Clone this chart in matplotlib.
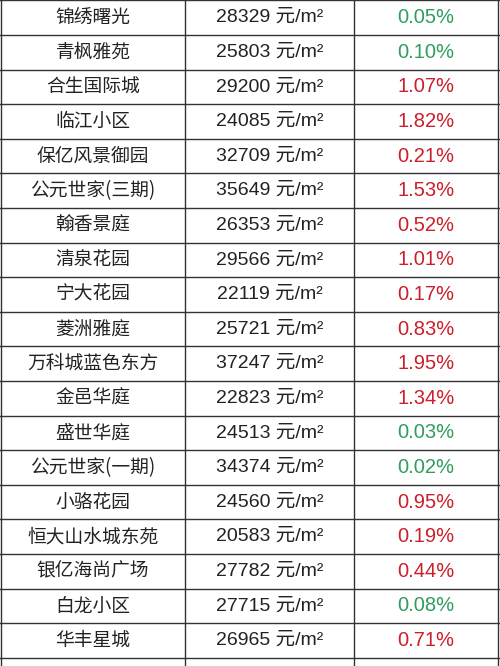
import matplotlib
matplotlib.use('Agg')
import matplotlib.pyplot as plt

plt.rcParams['font.family'] = ['Noto Sans CJK SC', 'DejaVu Sans']

names = ["锦绣曙光", "青枫雅苑", "合生国际城", "临江小区", "保亿风景御园", "公元世家(三期)",
         "翰香景庭", "清泉花园", "宁大花园", "菱洲雅庭", "万科城蓝色东方", "金邑华庭",
         "盛世华庭", "公元世家(一期)", "小骆花园", "恒大山水城东苑", "银亿海尚广场", "白龙小区", "华丰星城"]
prices = [28329, 25803, 29200, 24085, 32709, 35649, 26353, 29566, 22119, 25721,
          37247, 22823, 24513, 34374, 24560, 20583, 27782, 27715, 26965]
changes = ["0.05%", "0.10%", "1.07%", "1.82%", "0.21%", "1.53%", "0.52%", "1.01%", "0.17%", "0.83%",
           "1.95%", "1.34%", "0.03%", "0.02%", "0.95%", "0.19%", "0.44%", "0.08%", "0.71%"]
trend = ["g", "g", "r", "r", "r", "r", "r", "r", "r", "r",
         "r", "r", "g", "g", "r", "r", "r", "g", "r"]

colors = {"g": "#2f9e5e", "r": "#cc1f2b"}
latin = ['Liberation Sans', 'Noto Sans CJK SC']

fig = plt.figure(figsize=(5, 6.66), dpi=100)
ax = fig.add_axes([0, 0, 1, 1])
ax.set_xlim(0, 500)
ax.set_ylim(666, 0)
ax.axis('off')

row_h = 34.6
top = 35 - row_h
col_x = [1, 185, 354, 498]
centers = [93, 270, 426]

for i in range(len(names) + 1):
    y = top + i * row_h
    ax.plot([0, 500], [y, y], color='#333333', lw=1.0)
for x in col_x:
    ax.plot([x, x], [0, 666], color='#333333', lw=1.0)

for i, (n, p, c, t) in enumerate(zip(names, prices, changes, trend)):
    yc = top + (i + 0.5) * row_h
    ax.text(centers[0], yc, n, ha='center', va='center', fontsize=13.5, color='#222222')
    ax.text(centers[1], yc, f"{p} 元/m²", ha='center', va='center', fontsize=14,
            color='#222222', family=latin)
    ax.text(centers[2], yc, c, ha='center', va='center', fontsize=14.5,
            color=colors[t], family=latin)

fig.savefig('out.png', dpi=100)
